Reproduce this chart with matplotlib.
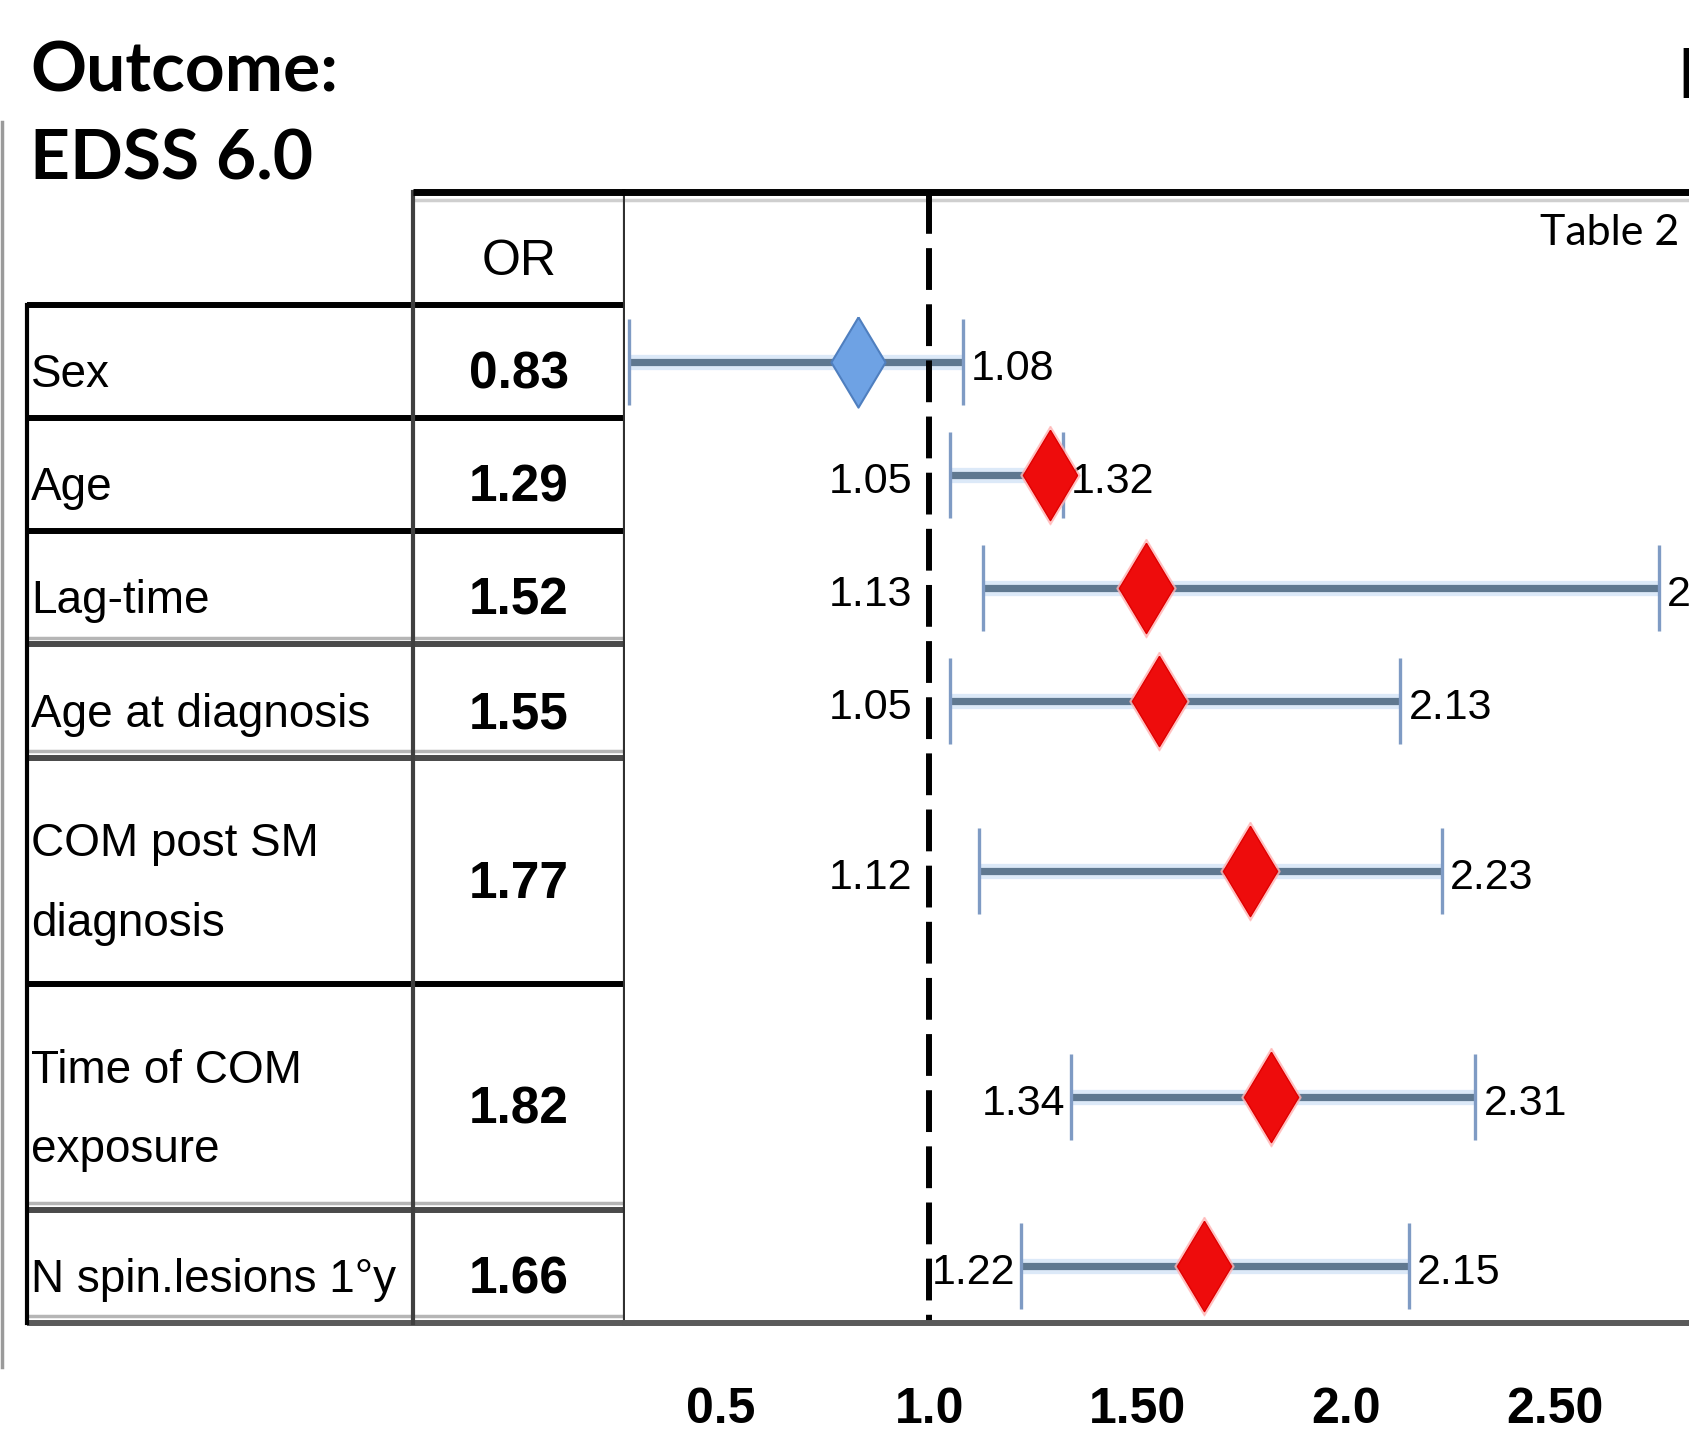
import numpy as np
import matplotlib
matplotlib.use("Agg")
import matplotlib.pyplot as plt
from matplotlib import font_manager as fm
from matplotlib.lines import Line2D

# ---------------- data ----------------
factors = [
    "Sex",
    "Age",
    "Lag-time",
    "Age at diagnosis",
    "COM post SM\ndiagnosis",
    "Time of COM\nexposure",
    "N spin.lesions 1°y",
]
odds_ratio = [0.83, 1.29, 1.52, 1.55, 1.77, 1.82, 1.66]
ci_lower = [0.28, 1.05, 1.13, 1.05, 1.12, 1.34, 1.22]
ci_upper = [1.08, 1.32, 2.75, 2.13, 2.23, 2.31, 2.15]
lower_is_labelled = [False, True, True, True, True, True, True]
significant = [False, True, True, True, True, True, True]
tick_values = [0.5, 1.0, 1.5, 2.0, 2.5]
tick_labels = ["0.5", "1.0", "1.50", "2.0", "2.50"]

# ---------------- fonts ----------------
available = {f.name for f in fm.fontManager.ttflist}


def pick(*names):
    for n in names:
        if n in available:
            return n
    return "DejaVu Sans"


NARROW = pick("Liberation Sans", "Roboto", "DejaVu Sans")
HEAD = pick("Lato", "Open Sans", "Noto Sans")
narrow_kw = dict(family=NARROW)

# ---------------- layout (pixels) ----------------
W, H = 1690, 1445
TOP, BOT = 192, 1323
TAB_L, TAB_R, PLOT_R = 27, 625, W


def fx(px):
    return px / W


def fy(py):
    return 1 - py / H


fig = plt.figure(figsize=(W / 100, H / 100), dpi=100)
fig.patch.set_facecolor("white")

ax_tab = fig.add_axes([fx(TAB_L), fy(BOT), fx(TAB_R) - fx(TAB_L), fy(TOP) - fy(BOT)])
ax = fig.add_axes([fx(TAB_R), fy(BOT), fx(PLOT_R) - fx(TAB_R), fy(TOP) - fy(BOT)])

# row geometry: header row + one unit per text line of each factor
n_lines = [lab.count("\n") + 1 for lab in factors]
bounds = np.concatenate([[0, 1], 1 + np.cumsum(n_lines)])
total = bounds[-1]
centers = (bounds[1:-1] + bounds[2:]) / 2

# ---------------- table ----------------
tab_w = TAB_R - TAB_L
col_split = 386
ax_tab.set_xlim(0, tab_w)
ax_tab.set_ylim(total, 0)
ax_tab.axis("off")

# top rule over the OR column
ax_tab.plot([col_split, tab_w], [0, 0], color="black", lw=5, clip_on=False,
            solid_capstyle="butt", zorder=5)
ax_tab.plot([col_split, tab_w], [0.07, 0.07], color="#cfcfcf", lw=2.5, clip_on=False)

rule_colors = ["black", "black", "black", "#4a4a4a", "#4a4a4a", "black", "#4a4a4a", "#5a5a5a"]
for yb, col in zip(bounds[1:], rule_colors):
    if col != "black":
        ax_tab.plot([0, tab_w], [yb - 0.06, yb - 0.06], color="#b5b5b5", lw=2.5, clip_on=False)
    ax_tab.plot([0, tab_w + 10], [yb, yb], color=col, lw=4.3, clip_on=False,
                solid_capstyle="butt", zorder=3)

ax_tab.plot([0, 0], [1, total], color="black", lw=3, clip_on=False, zorder=4)
ax_tab.plot([col_split, col_split], [0, total], color="#404040", lw=3, clip_on=False, zorder=4)
ax_tab.plot([tab_w, tab_w], [0, total], color="#303030", lw=3, clip_on=False, zorder=4)

text_shift = 0.12
or_x = (col_split + tab_w) / 2
ax_tab.text(or_x, 0.5 + text_shift, "OR", ha="center", va="center", fontsize=36, **narrow_kw)
for lab, val, c in zip(factors, odds_ratio, centers):
    ax_tab.text(4, c + text_shift, lab, ha="left", va="center", fontsize=33,
                linespacing=2.05, **narrow_kw)
    ax_tab.text(or_x, c + text_shift, f"{val:.2f}", ha="center", va="center",
                fontsize=37, fontweight="bold", **narrow_kw)

# ---------------- forest plot ----------------
ax.set_xlim(0.27, 2.825)
ax.set_ylim(total, 0)
for s in ax.spines.values():
    s.set_visible(False)
ax.set_yticks([])

ax.axhline(0, color="black", lw=5, zorder=5, clip_on=False)
ax.axhline(0.07, color="#cfcfcf", lw=2.5, zorder=2)
ax.axhline(total, color="#5a5a5a", lw=4.3, zorder=5, clip_on=False)

# reference line at OR = 1
ax.plot([1.0, 1.0], [0, total], color="black", lw=4.3, dashes=(7, 2.4), zorder=4)

diamond = [(0, 1), (0.6, 0), (0, -1), (-0.6, 0), (0, 1)]
cap_half = 0.38
for orv, lo, hi, y, sig in zip(odds_ratio, ci_lower, ci_upper, centers, significant):
    ax.plot([lo, hi], [y, y], color="#dce9f8", lw=11, solid_capstyle="butt", zorder=2)
    ax.plot([lo, hi], [y, y], color="#5f7890", lw=5.2, solid_capstyle="butt", zorder=3)
    ax.vlines([lo, hi], y - cap_half, y + cap_half, color="#7f9bc4", lw=2.4, zorder=3)
    if sig:
        ax.plot([orv], [y], marker=diamond, ms=71, color="#ffb3b3", alpha=0.7, zorder=5)
        ax.plot([orv], [y], marker=diamond, ms=65, color="#ee0c0c", mec="#e00000", zorder=6)
    else:
        ax.plot([orv], [y], marker=diamond, ms=65, color="#6ea2e4", mec="#4f7fbf", mew=1.5, zorder=6)

# value labels at the interval ends
fig.canvas.draw()
renderer = fig.canvas.get_renderer()
ref_px = ax.transData.transform((1.0, 0))[0]

for lo, hi, y, show_lo in zip(ci_lower, ci_upper, centers, lower_is_labelled):
    ax.annotate(f"{hi:.2f}", xy=(hi, y), xytext=(6, -5), textcoords="offset points",
                ha="left", va="center", fontsize=31, annotation_clip=False, **narrow_kw)
    if show_lo:
        lab = ax.annotate(f"{lo:.2f}", xy=(lo, y), xytext=(-4, -5), textcoords="offset points",
                          ha="right", va="center", fontsize=31, annotation_clip=False, **narrow_kw)
        # keep the label clear of the reference line; otherwise set it to the left of it
        if lab.get_window_extent(renderer).x0 < ref_px - 6:
            lab.xy = (1.0, y)
            lab.set_position((-12, -5))

ax.set_xticks(tick_values)
ax.set_xticklabels(tick_labels, fontsize=36, fontweight="bold", **narrow_kw)
ax.tick_params(axis="x", length=0, pad=46)

# ---------------- headings ----------------
fig.text(fx(30), fy(92), "Outcome:", fontsize=50, fontweight="bold", family=HEAD, va="baseline")
fig.text(fx(30), fy(180), "EDSS 6.0", fontsize=50, fontweight="bold", family=HEAD, va="baseline")
fig.text(fx(1677), fy(98), "P", fontsize=50, fontweight="bold", family=HEAD, va="baseline")
fig.text(fx(1679), fy(245), "Table 2", fontsize=31, family=HEAD, ha="right", va="baseline")

fig.add_artist(Line2D([fx(2), fx(2)], [fy(122), fy(1367)], color="#9a9a9a", lw=2.5))

fig.savefig("out.png", dpi=100, facecolor="white")
